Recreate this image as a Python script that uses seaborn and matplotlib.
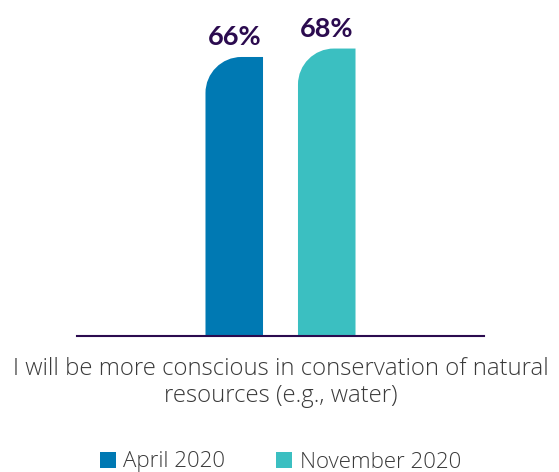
import matplotlib
matplotlib.use("Agg")
import matplotlib.pyplot as plt
import seaborn as sns
import pandas as pd
from matplotlib.path import Path
from matplotlib.patches import PathPatch, Patch

categories = ["I will be more conscious in conservation of natural\nresources (e.g., water)"]
periods = ["April 2020", "November 2020"]
values = [66, 68]
labels = ["66%", "68%"]
colors = ["#0079B3", "#3BBFC1"]

df = pd.DataFrame({"category": categories * 2, "period": periods, "value": values})

sns.set_theme(style="white")
plt.rcParams['font.family'] = ['Open Sans', 'DejaVu Sans']

W, H = 559, 472
fig = plt.figure(figsize=(W / 100, H / 100), dpi=100)
ax_w_px, ax_h_px = 407, 316.5
ax = fig.add_axes([77 / W, (H - 335.5) / H, ax_w_px / W, ax_h_px / H])
sns.barplot(data=df, x="category", y="value", hue="period", palette=colors,
            width=0.4545, gap=0.378, ax=ax, legend=False, saturation=1)
ax.set_xlim(-0.5, 0.5)
ymax = 75
ax.set_ylim(0, ymax)

px_x = ax_w_px / 1.0
px_y = ax_h_px / ymax
r_px = 36
rx = r_px / px_x
ry = r_px / px_y
k = 0.5523

bars = [p for p in ax.patches]
for bar, lab in zip(bars, labels):
    x = bar.get_x(); w = bar.get_width(); h = bar.get_height()
    col = bar.get_facecolor()
    bar.set_visible(False)
    verts = [(x, 0), (x + w, 0), (x + w, h), (x + rx, h),
             (x + rx - k * rx, h), (x, h - ry + k * ry), (x, h - ry),
             (x, 0)]
    codes = [Path.MOVETO, Path.LINETO, Path.LINETO, Path.LINETO,
             Path.CURVE4, Path.CURVE4, Path.CURVE4, Path.CLOSEPOLY]
    ax.add_patch(PathPatch(Path(verts, codes), facecolor=col, edgecolor='none'))
    ax.text(x + w / 2, h + 11.7 / px_y, lab, ha='center', va='baseline',
            fontsize=19.5, fontweight='bold', color='#2B0B4F',
            family=['Lato', 'DejaVu Sans'])

for s in ['top', 'right', 'left']:
    ax.spines[s].set_visible(False)
ax.spines['bottom'].set_color('#2B0B4F')
ax.spines['bottom'].set_linewidth(1.5)
ax.set_yticks([])
ax.set_xlabel('')
ax.set_ylabel('')
ax.tick_params(axis='x', length=0, pad=15.5, labelsize=17.2, labelcolor='#3A3A3A')
for t in ax.get_xticklabels():
    t.set_linespacing(1.15)
    t.set_fontweight('light')

handles = [Patch(facecolor=c, edgecolor='none') for c in colors]
leg = fig.legend(handles, periods, loc='center', bbox_to_anchor=(280.5 / W, 1 - 462 / H),
                 ncol=2, frameon=False, fontsize=16, handlelength=0.7, handleheight=0.7,
                 handletextpad=0.35, columnspacing=2.3, labelcolor='#3A3A3A')
for t in leg.get_texts():
    t.set_fontweight('light')

fig.savefig('out.png', dpi=100)
